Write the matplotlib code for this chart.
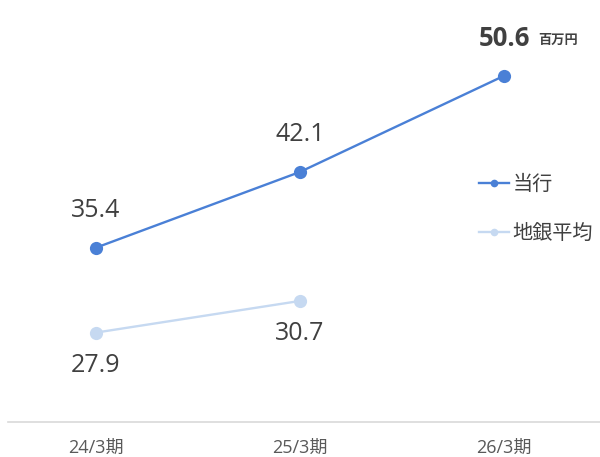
import matplotlib
matplotlib.use("Agg")
import matplotlib.pyplot as plt
from matplotlib.lines import Line2D

plt.rcParams['font.family'] = ['Noto Sans CJK JP', 'DejaVu Sans']
NUM_FONT = ['Open Sans', 'Noto Sans CJK JP', 'DejaVu Sans']

categories = ["24/3期", "25/3期", "26/3期"]
bank_values = [35.4, 42.1, 50.6]
regional_avg_values = [27.9, 30.7]
series_names = ["当行", "地銀平均"]
unit_label = "百万円"

c_main = "#4a80d6"
c_avg = "#c6d9f1"
c_text = "#404040"

fig = plt.figure(figsize=(6.0, 4.57), dpi=100)
ax = fig.add_axes([8/600, 1 - 422/457, 1 - 8/600, 422/457])
ax.set_xlim(-0.43, 2.47)
ax.set_ylim(20, 57.3)

x_main = list(range(len(bank_values)))
x_avg = list(range(len(regional_avg_values)))

ax.plot(x_main, bank_values, color=c_main, lw=1.7, marker='o', ms=9.5,
        markeredgewidth=0, zorder=3)
ax.plot(x_avg, regional_avg_values, color=c_avg, lw=1.7, marker='o', ms=9.5,
        markeredgewidth=0, zorder=3)

for i, v in enumerate(bank_values):
    if i == len(bank_values) - 1:
        ax.annotate(f"{v:.1f}", (i, v), xytext=(0, 27), textcoords='offset points',
                    ha='center', va='center', fontsize=18.5, fontweight='bold',
                    color=c_text, family=NUM_FONT)
        ax.annotate(unit_label, (i, v), xytext=(24.5, 25.5), textcoords='offset points',
                    ha='left', va='center', fontsize=9.5, fontweight='bold',
                    color=c_text)
    else:
        ax.annotate(f"{v:.1f}", (i, v), xytext=(0, 27), textcoords='offset points',
                    ha='center', va='center', fontsize=18, color=c_text,
                    family=NUM_FONT)

for i, v in enumerate(regional_avg_values):
    ax.annotate(f"{v:.1f}", (i, v), xytext=(0, -23.5), textcoords='offset points',
                ha='center', va='center', fontsize=18, color=c_text,
                family=NUM_FONT)

for s in ['top', 'right', 'left']:
    ax.spines[s].set_visible(False)
ax.spines['bottom'].set_color('#d9d9d9')
ax.spines['bottom'].set_linewidth(1.2)
ax.set_yticks([])
ax.set_xticks(x_main)
ax.set_xticklabels(categories, fontsize=13, color='#595959', family=NUM_FONT)
ax.tick_params(axis='x', length=0, pad=12)

handles = [
    Line2D([], [], color=c_main, lw=1.7, marker='o', ms=5.5, markeredgewidth=0),
    Line2D([], [], color=c_avg, lw=1.7, marker='o', ms=5.5, markeredgewidth=0),
]
leg = fig.legend(handles, series_names, loc='upper left',
                 bbox_to_anchor=(469/600, 1 - 164/457), frameon=False,
                 prop={'size': 14.5}, handlelength=1.5, handletextpad=0.15,
                 labelspacing=1.4, borderpad=0)
for t in leg.get_texts():
    t.set_color(c_text)

fig.savefig("out.png", dpi=100)
